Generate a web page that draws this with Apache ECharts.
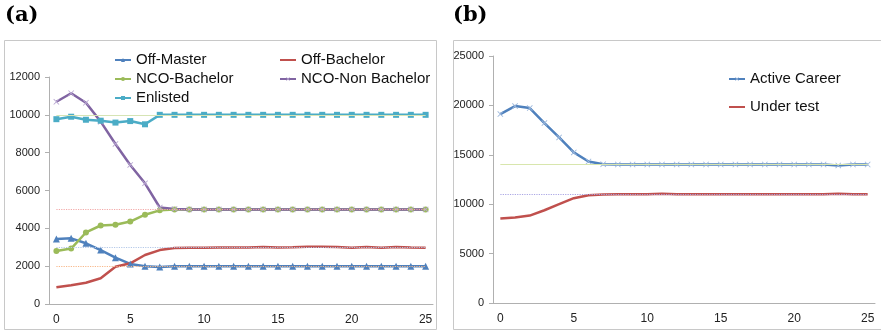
<!DOCTYPE html>
<html>
<head>
<meta charset="utf-8">
<script src="https://cdn.jsdelivr.net/npm/echarts@6/dist/echarts.min.js"></script>
<style>
  html, body { margin: 0; padding: 0; background: #fff; }
  #chart { width: 881px; height: 330px; }
</style>
</head>
<body>
<div id="chart"></div>
<script>
// x 轴类别 0..25
const steps = ['0','1','2','3','4','5','6','7','8','9','10','11','12','13','14','15','16','17','18','19','20','21','22','23','24','25'];

// (a) 各类人员
const offMaster = [3440, 3470, 3210, 2850, 2450, 2120, 1990, 1950, 2000, 2000, 2000, 2000, 2000, 2000, 2000, 2000, 2000, 2000, 2000, 2000, 2000, 2000, 2000, 2000, 2000, 2000];
const offBachelor = [880, 990, 1120, 1360, 1970, 2150, 2590, 2850, 2960, 2980, 2980, 2990, 2990, 2990, 3010, 2990, 3000, 3020, 3020, 3010, 2970, 3010, 2980, 3010, 2990, 2980];
const ncoBachelor = [2800, 2930, 3780, 4150, 4190, 4360, 4720, 4950, 5000, 5000, 5000, 5000, 5000, 5000, 5000, 5000, 5000, 5000, 5000, 5000, 5000, 5000, 5000, 5000, 5000, 5000];
const ncoNonBachelor = [10690, 11140, 10640, 9640, 8460, 7350, 6380, 5100, 5020, 5000, 5000, 5000, 5000, 5000, 5000, 5000, 5000, 5000, 5000, 5000, 5000, 5000, 5000, 5000, 5000, 5000];
const enlisted = [9770, 9900, 9740, 9690, 9590, 9670, 9500, 10000, 10000, 10000, 10000, 10000, 10000, 10000, 10000, 10000, 10000, 10000, 10000, 10000, 10000, 10000, 10000, 10000, 10000, 10000];
// (a) 目标值（虚线）
const targetsA = [10000, 5000, 3000, 2000];

// (b) 现役 / 试用
const activeCareer = [19120, 19930, 19730, 18210, 16760, 15240, 14320, 14050, 14020, 14020, 14020, 14020, 14020, 14020, 14020, 14020, 14020, 14020, 14020, 14020, 14020, 14020, 14020, 13920, 14020, 14020];
const underTest = [8550, 8650, 8850, 9390, 10000, 10610, 10910, 10980, 11000, 11000, 11000, 11060, 11000, 11000, 11000, 11000, 11000, 11000, 11000, 11000, 11000, 11000, 11000, 11070, 11000, 11000];
// (b) 目标值
const targetsB = [14000, 11000];

const cBlue = '#4F81BD', cRed = '#C0504D', cGreen = '#9BBB59', cPurple = '#8064A2', cTeal = '#4BACC6';
const xShape = 'path://M0,1L1,0L5,4L9,0L10,1L6,5L10,9L9,10L5,6L1,10L0,9L4,5Z';
const plainLine = 'path://M0,0H24V3H0Z';

// 目标参考线
function refLine(v, color, type, gi) {
    return {
        type: 'line', xAxisIndex: gi, yAxisIndex: gi, data: [], silent: true, z: 1,
        markLine: {
            silent: true, symbol: 'none', label: { show: false },
            lineStyle: { color: color, type: type, width: 1.2 },
            data: [[{ coord: [steps[0], v] }, { coord: [steps[steps.length - 1], v] }]]
        }
    };
}

function lineSeries(name, data, color, symbol, size, gi, symColor) {
    return {
        name: name, type: 'line', xAxisIndex: gi, yAxisIndex: gi, data: data, z: 3,
        symbol: symbol, symbolSize: size, showSymbol: symbol !== 'none',
        lineStyle: { color: color, width: 2.5 },
        itemStyle: { color: symColor || color },
        animation: false
    };
}

function xAxis(gi) {
    return {
        type: 'category', gridIndex: gi, data: steps, boundaryGap: true,
        axisLine: { lineStyle: { color: '#b0b0b0' } },
        axisTick: { interval: 4, length: 4, lineStyle: { color: '#b0b0b0' } },
        axisLabel: { interval: 4, color: '#222', fontSize: 12, margin: 10, fontFamily: 'Liberation Sans' }
    };
}

function yAxis(gi, max, interval) {
    return {
        type: 'value', gridIndex: gi, min: 0, max: max, interval: interval,
        splitLine: { show: false },
        axisLine: { show: true, lineStyle: { color: '#b0b0b0' } },
        axisTick: { show: true, length: 4, lineStyle: { color: '#b0b0b0' } },
        axisLabel: { color: '#222', fontSize: 11, margin: 9, fontFamily: 'Liberation Sans',
                     formatter: function (v) { return String(v); } }
    };
}

const legendText = { fontSize: 15, color: '#111', fontFamily: 'Liberation Sans', lineHeight: 16 };
const legendBase = { orient: 'vertical', itemWidth: 16, itemHeight: 5, textStyle: legendText };

const chart = echarts.init(document.getElementById('chart'));
chart.setOption({
    animation: false,
    backgroundColor: '#fff',
    graphic: [
        { type: 'rect', shape: { x: 4.5, y: 40.5, width: 432, height: 289 }, style: { fill: 'none', stroke: '#c8c8c8', lineWidth: 1 }, z: -1 },
        { type: 'rect', shape: { x: 453.5, y: 40.5, width: 430, height: 289 }, style: { fill: 'none', stroke: '#c8c8c8', lineWidth: 1 }, z: -1 },
        { type: 'text', left: 5, top: 5, style: { text: '(a)', font: 'bold 21px "DejaVu Serif"', fill: '#000' } },
        { type: 'text', left: 453, top: 5, style: { text: '(b)', font: 'bold 21px "DejaVu Serif"', fill: '#000' } }
    ],
    grid: [
        { left: 49, top: 77, right: 448, bottom: 26 },
        { left: 493, top: 56, right: 6, bottom: 27 }
    ],
    xAxis: [xAxis(0), xAxis(1)],
    yAxis: [yAxis(0, 12000, 2000), yAxis(1, 25000, 5000)],
    legend: [
        Object.assign({}, legendBase, { left: 109, top: 47, itemGap: 3,
          data: ['Off-Master', 'NCO-Bachelor', 'Enlisted'] }),
        Object.assign({}, legendBase, { left: 274, top: 47, itemGap: 3,
          data: [{ name: 'Off-Bachelor', icon: plainLine }, 'NCO-Non Bachelor'] }),
        Object.assign({}, legendBase, { left: 723, top: 66, itemGap: 12,
          data: ['Active Career', { name: 'Under test', icon: plainLine }] })
    ],
    series: [
        refLine(targetsA[0], '#d6e4b4', 'solid', 0),
        refLine(targetsA[1], '#f2a9a8', 'dotted', 0),
        refLine(targetsA[2], '#b4c8e8', 'dotted', 0),
        refLine(targetsA[3], '#f8b88a', 'dotted', 0),
        refLine(targetsB[0], '#d8e6ad', 'solid', 1),
        refLine(targetsB[1], '#aaa6e4', 'dotted', 1),
        lineSeries('Off-Master', offMaster, cBlue, 'triangle', 7, 0),
        lineSeries('Off-Bachelor', offBachelor, cRed, 'none', 0, 0),
        lineSeries('NCO-Bachelor', ncoBachelor, cGreen, 'circle', 6, 0),
        lineSeries('NCO-Non Bachelor', ncoNonBachelor, cPurple, xShape, 6, 0, '#b9a8d2'),
        lineSeries('Enlisted', enlisted, cTeal, 'rect', 6, 0),
        lineSeries('Active Career', activeCareer, cBlue, xShape, 6, 1, '#9db8dc'),
        lineSeries('Under test', underTest, cRed, 'none', 0, 1)
    ]
});
</script>
</body>
</html>
